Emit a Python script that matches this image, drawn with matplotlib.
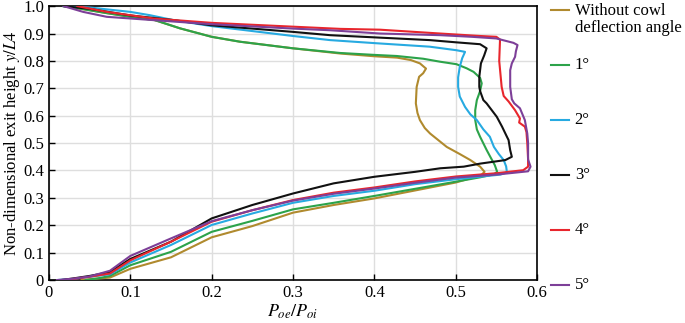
import matplotlib
matplotlib.use("Agg")
import matplotlib.pyplot as plt
from matplotlib.lines import Line2D
from matplotlib.ticker import FuncFormatter

plt.rcParams['font.family'] = ['Liberation Serif', 'DejaVu Serif']
plt.rcParams['mathtext.fontset'] = 'stix'

labels = ["Without cowl\ndeflection angle", "1°", "2°", "3°", "4°", "5°"]
colors = ["#b08a2e", "#2ca34a", "#27aae1", "#111111", "#e8262d", "#7d3f98"]

# curves traced top -> profile -> bottom, as (Poe/Poi, y/L4)
x_none = [0.018, 0.04, 0.07, 0.10, 0.13, 0.161, 0.20, 0.235, 0.30, 0.358, 0.40, 0.428, 0.445,
          0.456, 0.4635, 0.46, 0.455, 0.452, 0.451, 0.453, 0.456, 0.462, 0.4685, 0.489, 0.505,
          0.518, 0.530, 0.5355, 0.532, 0.52, 0.50, 0.45, 0.40, 0.35, 0.30, 0.25, 0.20, 0.15,
          0.10, 0.075, 0.05, 0.04]
y_none = [1.0, 0.99, 0.975, 0.961, 0.949, 0.919, 0.888, 0.870, 0.846, 0.827, 0.817, 0.812, 0.803,
          0.791, 0.772, 0.755, 0.742, 0.705, 0.645, 0.61, 0.584, 0.555, 0.535, 0.486, 0.46,
          0.438, 0.414, 0.395, 0.385, 0.373, 0.356, 0.327, 0.298, 0.274, 0.246, 0.197, 0.156, 0.083,
          0.041, 0.009, 0.003, 0.0]

x_1 = [0.018, 0.04, 0.07, 0.10, 0.13, 0.161, 0.20, 0.235, 0.30, 0.358, 0.40, 0.4275, 0.46, 0.481,
       0.501, 0.5135, 0.522, 0.530, 0.532, 0.530, 0.526, 0.524, 0.524, 0.526, 0.530, 0.532, 0.538,
       0.5425, 0.548, 0.551, 0.547, 0.53, 0.50, 0.45, 0.40, 0.35, 0.30, 0.25, 0.20, 0.15, 0.10,
       0.075, 0.06, 0.045]
y_1 = [1.0, 0.99, 0.975, 0.961, 0.949, 0.919, 0.888, 0.870, 0.846, 0.829, 0.822, 0.818, 0.808, 0.797,
       0.788, 0.773, 0.760, 0.738, 0.718, 0.69, 0.657, 0.62, 0.584, 0.55, 0.523, 0.511, 0.475,
       0.450, 0.42, 0.395, 0.386, 0.375, 0.359, 0.333, 0.307, 0.282, 0.258, 0.216, 0.176, 0.103, 0.054,
       0.015, 0.006, 0.0]

x_2 = [0.018, 0.05, 0.10, 0.124, 0.153, 0.20, 0.30, 0.3455, 0.40, 0.468, 0.501, 0.5115, 0.508, 0.505,
       0.503, 0.503, 0.505, 0.5115, 0.518, 0.526, 0.534, 0.542, 0.547, 0.553, 0.559, 0.562, 0.563,
       0.555, 0.50, 0.45, 0.40, 0.35, 0.30, 0.25, 0.20, 0.15, 0.10, 0.075, 0.05, 0.03, 0.01]
y_2 = [1.0, 0.995, 0.979, 0.967, 0.949, 0.927, 0.891, 0.876, 0.865, 0.852, 0.839, 0.833, 0.81, 0.778,
       0.74, 0.705, 0.67, 0.632, 0.605, 0.584, 0.55, 0.523, 0.486, 0.46, 0.438, 0.415, 0.393,
       0.385, 0.368, 0.35, 0.326, 0.307, 0.282, 0.243, 0.201, 0.128, 0.064, 0.021, 0.012, 0.004, 0.0]

x_3 = [0.018, 0.05, 0.10, 0.153, 0.20, 0.30, 0.3455, 0.40, 0.468, 0.50, 0.53, 0.538, 0.535, 0.531,
       0.529, 0.529, 0.530, 0.534, 0.538, 0.5505, 0.557, 0.563, 0.565, 0.567, 0.569, 0.561, 0.53,
       0.51, 0.481, 0.45, 0.40, 0.35, 0.30, 0.25, 0.20, 0.15, 0.10, 0.075, 0.05, 0.03, 0.015]
y_3 = [1.0, 0.99, 0.966, 0.949, 0.93, 0.906, 0.894, 0.886, 0.876, 0.868, 0.861, 0.846, 0.82, 0.791,
       0.742, 0.705, 0.69, 0.657, 0.645, 0.596, 0.56, 0.523, 0.511, 0.474, 0.450, 0.438, 0.425,
       0.414, 0.408, 0.395, 0.377, 0.353, 0.316, 0.274, 0.225, 0.14, 0.077, 0.029, 0.015, 0.006, 0.0]

x_4 = [0.035, 0.071, 0.128, 0.20, 0.30, 0.358, 0.407, 0.481, 0.53, 0.55, 0.5545, 0.5535, 0.5565,
       0.559, 0.565, 0.573, 0.579, 0.578, 0.585, 0.587, 0.588, 0.589, 0.589, 0.583, 0.55, 0.50,
       0.45, 0.40, 0.35, 0.30, 0.25, 0.20, 0.15, 0.10, 0.075, 0.05, 0.02]
y_4 = [1.0, 0.979, 0.955, 0.939, 0.925, 0.917, 0.914, 0.900, 0.891, 0.888, 0.878, 0.80, 0.705,
       0.672, 0.652, 0.62, 0.59, 0.575, 0.56, 0.54, 0.50, 0.44, 0.414, 0.401, 0.39, 0.378,
       0.36, 0.338, 0.319, 0.292, 0.255, 0.213, 0.14, 0.072, 0.024, 0.012, 0.0]

x_5 = [0.018, 0.042, 0.071, 0.0996, 0.128, 0.20, 0.30, 0.3455, 0.407, 0.481, 0.52, 0.55, 0.571,
       0.576, 0.574, 0.573, 0.569, 0.567, 0.567, 0.567, 0.569, 0.572, 0.579, 0.585, 0.588, 0.589,
       0.589, 0.592, 0.589, 0.55, 0.50, 0.45, 0.40, 0.35, 0.30, 0.25, 0.20, 0.15, 0.10, 0.075,
       0.05, 0.03, 0.01]
y_5 = [1.0, 0.979, 0.961, 0.955, 0.949, 0.934, 0.918, 0.912, 0.900, 0.894, 0.888, 0.882, 0.866,
       0.858, 0.835, 0.815, 0.791, 0.766, 0.730, 0.705, 0.660, 0.645, 0.627, 0.584, 0.535, 0.50,
       0.44, 0.414, 0.397, 0.385, 0.374, 0.355, 0.334, 0.315, 0.29, 0.255, 0.215, 0.152, 0.088, 0.034,
       0.013, 0.005, 0.0]

xs = [x_none, x_1, x_2, x_3, x_4, x_5]
ys = [y_none, y_1, y_2, y_3, y_4, y_5]

fig = plt.figure(figsize=(6.85, 3.23), dpi=100)
ax = fig.add_axes([0.0715, 0.133, 0.7125, 0.848])

for x, y, c in zip(xs, ys, colors):
    ax.plot(x, y, color=c, lw=1.5, solid_joinstyle='round', zorder=3)

ax.set_xlim(0, 0.6)
ax.set_ylim(0, 1.0)
ax.set_xticks([0, 0.1, 0.2, 0.3, 0.4, 0.5, 0.6])
ax.set_yticks([0, 0.1, 0.2, 0.3, 0.4, 0.5, 0.6, 0.7, 0.8, 0.9, 1.0])
fmt = FuncFormatter(lambda v, p: "0" if abs(v) < 1e-9 else f"{v:.1f}")
ax.xaxis.set_major_formatter(fmt)
ax.yaxis.set_major_formatter(fmt)
ax.tick_params(direction='in', length=4, width=1, labelsize=12, top=False, right=False)
ax.grid(True, color='#dedede', lw=1, zorder=0)
for s in ax.spines.values():
    s.set_linewidth(1.2)

ax.set_xlabel(r"$P_{oe}/P_{oi}$", fontsize=13, labelpad=1)
ax.set_ylabel(r"Non-dimensional exit height $\mathit{y/L4}$", fontsize=12, labelpad=1)

# legend drawn at the right side, one entry every ~55 px
leg_y = [0.969, 0.799, 0.628, 0.458, 0.288, 0.118]
for lab, c, yy in zip(labels, colors, leg_y):
    fig.add_artist(Line2D([0.805, 0.830], [yy, yy], color=c, lw=1.5, transform=fig.transFigure))
    if "\n" in lab:
        fig.text(0.839, yy + 0.022, lab, fontsize=12, va='top', ha='left', linespacing=1.1)
    else:
        fig.text(0.839, yy, lab, fontsize=12, va='center', ha='left')

fig.savefig("out.png", dpi=100)
